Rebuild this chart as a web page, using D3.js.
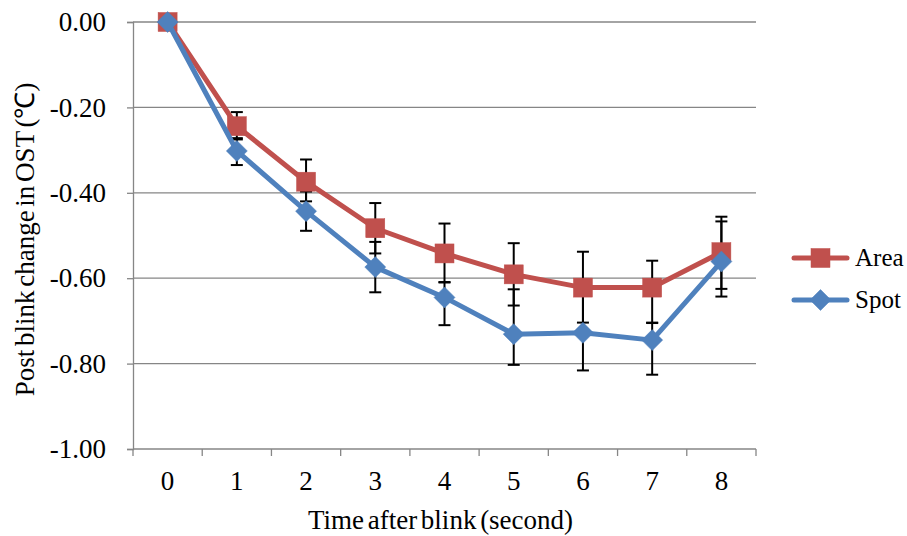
<!DOCTYPE html>
<html>
<head>
<meta charset="utf-8">
<script src="https://cdn.jsdelivr.net/npm/d3@7/dist/d3.min.js"></script>
<style>
  html, body { margin: 0; padding: 0; background: #ffffff; }
  svg text { font-family: "Liberation Serif", "Times New Roman", serif; fill: #000; }
</style>
</head>
<body>
<svg id="chart" width="907" height="536"></svg>
<script>
// Time after blink (seconds)
const seconds = ["0", "1", "2", "3", "4", "5", "6", "7", "8"];

// Mean post-blink change in ocular surface temperature (°C)
const areaMean = [0, -0.244, -0.374, -0.483, -0.542, -0.591, -0.622, -0.622, -0.539];
const spotMean = [0, -0.302, -0.443, -0.574, -0.645, -0.731, -0.728, -0.745, -0.561];

// Error bar extents above (plus) and below (minus) each mean
const areaErrPlus  = [0, 0.033, 0.052, 0.059, 0.070, 0.073, 0.084, 0.063, 0.083];
const areaErrMinus = [0, 0.031, 0.046, 0.059, 0.068, 0.073, 0.082, 0.082, 0.086];
const spotErrPlus  = [0, 0.030, 0.046, 0.059, 0.036, 0.105, 0.088, 0.040, 0.094];
const spotErrMinus = [0, 0.033, 0.046, 0.059, 0.065, 0.072, 0.088, 0.081, 0.082];

const yTicks = [0, -0.2, -0.4, -0.6, -0.8, -1.0];

const svg = d3.select("#chart");
const plotLeft = 133, plotRight = 756, plotTop = 22, plotBottom = 449;
const fontSize = 27;

const x = d3.scaleBand().domain(seconds).range([plotLeft, plotRight]).padding(0);
const y = d3.scaleLinear().domain([-1, 0]).range([plotBottom, plotTop]);
const cx = d => x(d) + x.bandwidth() / 2;

const gridColor = "#868686";

// horizontal gridlines
svg.append("g").selectAll("line").data(yTicks.filter(v => v !== -1)).join("line")
  .attr("x1", plotLeft).attr("x2", plotRight)
  .attr("y1", d => y(d)).attr("y2", d => y(d))
  .attr("stroke", gridColor).attr("stroke-width", 1.3);

// y axis
const yAxis = d3.axisLeft(y).tickValues(yTicks).tickSize(6).tickPadding(21)
  .tickFormat(d => d.toFixed(2));
const gy = svg.append("g").attr("transform", `translate(${plotLeft},0)`).call(yAxis);
gy.select(".domain").attr("stroke", gridColor).attr("stroke-width", 1.3);
gy.selectAll(".tick line").attr("stroke", gridColor).attr("stroke-width", 1.3);
gy.selectAll(".tick text").style("font-size", fontSize + "px")
  .style("font-family", "'Liberation Serif', serif").attr("fill", "#000");

// x axis: labels centred in each band, tick marks on band boundaries
const xAxis = d3.axisBottom(x).tickSize(0).tickPadding(22);
const gx = svg.append("g").attr("transform", `translate(0,${plotBottom})`).call(xAxis);
gx.select(".domain").remove();
gx.selectAll(".tick text").style("font-size", fontSize + "px")
  .style("font-family", "'Liberation Serif', serif").attr("fill", "#000");
svg.append("line").attr("x1", plotLeft).attr("x2", plotRight).attr("y1", plotBottom).attr("y2", plotBottom)
  .attr("stroke", gridColor).attr("stroke-width", 1.3);
const boundaries = seconds.map(s => x(s)).concat([x.range()[1]]);
svg.append("g").selectAll("line").data(boundaries).join("line")
  .attr("x1", d => d).attr("x2", d => d).attr("y1", plotBottom).attr("y2", plotBottom + 7)
  .attr("stroke", gridColor).attr("stroke-width", 1.3);

// axis titles
svg.append("text").attr("x", (plotLeft + plotRight) / 2 - 4).attr("y", 529)
  .attr("text-anchor", "middle").style("font-size", fontSize + "px").style("word-spacing", "-3px")
  .text("Time after blink (second)");
svg.append("text").attr("transform", `translate(34,${(plotTop + plotBottom) / 2 + 4}) rotate(-90)`)
  .attr("text-anchor", "middle").style("font-size", fontSize + "px").style("word-spacing", "-3px")
  .text("Post blink change in OST (℃)");

const series = [
  { name: "Area", color: "#C0504D", mean: areaMean, plus: areaErrPlus, minus: areaErrMinus, shape: "square" },
  { name: "Spot", color: "#4F81BD", mean: spotMean, plus: spotErrPlus, minus: spotErrMinus, shape: "diamond" }
];

// error bars (drawn under the lines and markers)
const capHalf = 6;
series.forEach(s => {
  const g = svg.append("g").attr("stroke", "#000").attr("stroke-width", 2);
  seconds.forEach((sec, i) => {
    if (s.plus[i] === 0 && s.minus[i] === 0) return;
    const xc = cx(sec);
    const yHi = y(s.mean[i] + s.plus[i]);
    const yLo = y(s.mean[i] - s.minus[i]);
    g.append("line").attr("x1", xc).attr("x2", xc).attr("y1", yHi).attr("y2", yLo);
    g.append("line").attr("x1", xc - capHalf).attr("x2", xc + capHalf).attr("y1", yHi).attr("y2", yHi);
    g.append("line").attr("x1", xc - capHalf).attr("x2", xc + capHalf).attr("y1", yLo).attr("y2", yLo);
  });
});

const line = d3.line().x((d, i) => cx(seconds[i])).y(d => y(d));

function drawMarker(g, shape, color, px, py) {
  if (shape === "square") {
    g.append("rect").attr("x", px - 9.5).attr("y", py - 9.5).attr("width", 19).attr("height", 19)
      .attr("fill", color).attr("stroke", color).attr("stroke-width", 0.5);
  } else {
    const r = 10.5;
    g.append("path").attr("d", `M${px},${py - r}L${px + r},${py}L${px},${py + r}L${px - r},${py}Z`)
      .attr("fill", color).attr("stroke", color).attr("stroke-width", 0.5);
  }
}

series.forEach(s => {
  svg.append("path").datum(s.mean).attr("d", line)
    .attr("fill", "none").attr("stroke", s.color).attr("stroke-width", 5)
    .attr("stroke-linejoin", "round");
  const g = svg.append("g");
  s.mean.forEach((v, i) => drawMarker(g, s.shape, s.color, cx(seconds[i]), y(v)));
});

// legend
const legendY = [258, 300];
series.forEach((s, i) => {
  const ly = legendY[i];
  const g = svg.append("g");
  g.append("line").attr("x1", 794).attr("x2", 847).attr("y1", ly).attr("y2", ly)
    .attr("stroke", s.color).attr("stroke-width", 5).attr("stroke-linecap", "round");
  drawMarker(g, s.shape, s.color, 820.5, ly);
  g.append("text").attr("x", 855).attr("y", ly + 8).style("font-size", "25px").text(s.name);
});
</script>
</body>
</html>
